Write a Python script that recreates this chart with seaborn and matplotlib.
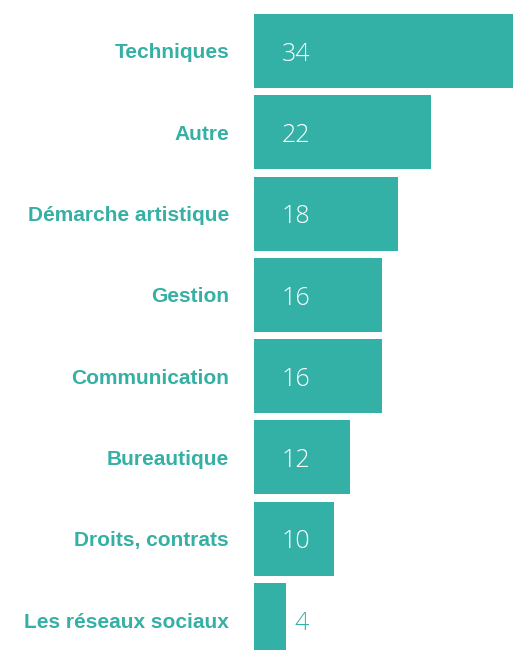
import matplotlib
matplotlib.use("Agg")
import matplotlib.pyplot as plt
import seaborn as sns
import pandas as pd

categories = ["Techniques", "Autre", "Démarche artistique", "Gestion",
              "Communication", "Bureautique", "Droits, contrats", "Les réseaux sociaux"]
values = [34, 22, 18, 16, 16, 12, 10, 4]

TEAL = "#33b1a6"
LABEL_TEAL = "#35b0a4"

sns.set_theme(style="white")
plt.rcParams["font.family"] = ["Liberation Sans", "DejaVu Sans"]

df = pd.DataFrame({"cat": categories, "val": values})

fig = plt.figure(figsize=(5.13, 6.5), dpi=100)
ax = fig.add_axes([253.5 / 513, 0, 1 - 253.5 / 513, 1])

sns.barplot(data=df, x="val", y="cat", orient="h", color=TEAL, saturation=1,
            width=0.91, edgecolor="none", linewidth=0, ax=ax)

px_per_unit = 8.05
ax.set_xlim(0, (513 - 253.5) / px_per_unit)
pitch = 81.29
ax.set_ylim((650 - 51) / pitch, -51 / pitch)

for s in ax.spines.values():
    s.set_visible(False)
ax.set_xticks([])
ax.set_xlabel("")
ax.set_ylabel("")
ax.tick_params(axis="y", length=0, pad=17.6)
for lab in ax.get_yticklabels():
    lab.set_color(LABEL_TEAL)
    lab.set_fontweight("bold")
    lab.set_fontsize(15)
    lab.set_fontfamily(["Liberation Sans", "DejaVu Sans"])

for i, v in enumerate(values):
    if v >= 8:
        x = 28.5 / px_per_unit
        col = "white"
    else:
        x = v + 9 / px_per_unit
        col = LABEL_TEAL
    ax.text(x, i + 0.04, str(v), color=col, fontsize=18, ha="left", va="center",
            family=["Open Sans", "DejaVu Sans"], fontweight="light")

fig.savefig("out.png", dpi=100)
